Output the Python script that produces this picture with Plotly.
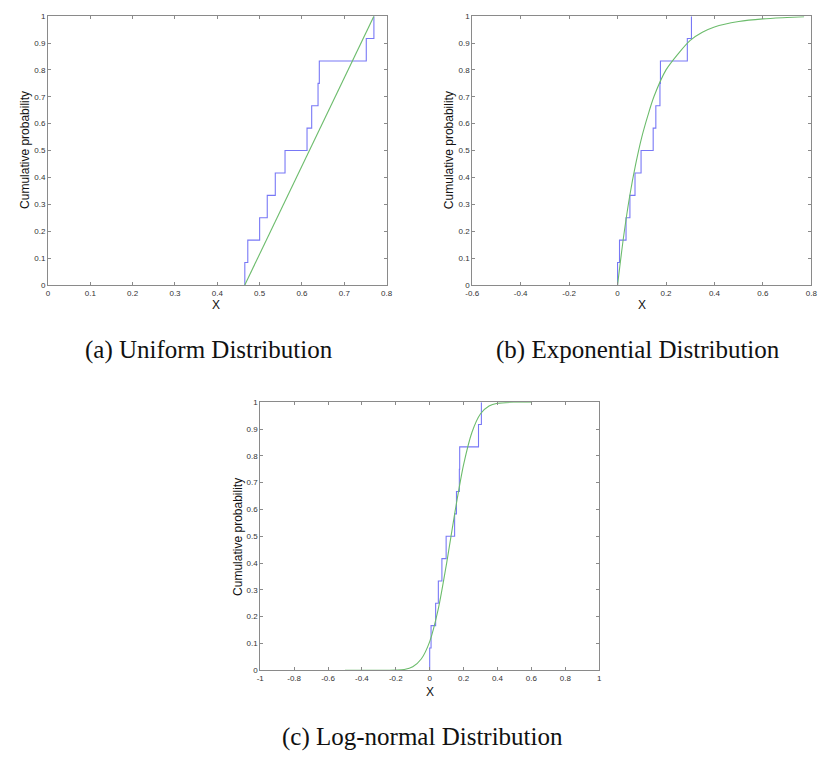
import plotly.graph_objects as go

W, H = 821, 757

# Empirical samples (sorted), read from the stairs
uniform_sample = [0.465, 0.472, 0.500, 0.518, 0.537, 0.560, 0.612, 0.623, 0.638, 0.641, 0.752, 0.770]
exp_sample = [0.000, 0.008, 0.035, 0.051, 0.072, 0.097, 0.147, 0.158, 0.175, 0.177, 0.288, 0.305]
logn_sample = [0.000, 0.008, 0.035, 0.051, 0.072, 0.097, 0.147, 0.158, 0.175, 0.177, 0.288, 0.305]

# Fitted CDF curves
uni_fit_x = [0.465, 0.770]
uni_fit_y = [0.0, 1.0]
exp_fit_x = [0.0, 0.025, 0.05, 0.075, 0.1, 0.125, 0.15, 0.2, 0.25, 0.3, 0.35, 0.4, 0.5, 0.6, 0.7, 0.77]
exp_fit_y = [0.0, 0.18, 0.33, 0.45, 0.55, 0.63, 0.70, 0.80, 0.86, 0.91, 0.94, 0.96, 0.98, 0.99, 0.995, 0.998]
logn_fit_x = [-0.5, -0.3, -0.2, -0.15, -0.1, -0.05, 0.0, 0.05, 0.1, 0.15, 0.2, 0.25, 0.3, 0.35, 0.4, 0.5, 0.6]
logn_fit_y = [0.0, 0.0, 0.001, 0.003, 0.013, 0.042, 0.107, 0.227, 0.40, 0.594, 0.767, 0.889, 0.957, 0.986, 0.996, 1.0, 1.0]

y_ticks = [0, 0.1, 0.2, 0.3, 0.4, 0.5, 0.6, 0.7, 0.8, 0.9, 1]
y_tick_text = ["0", "0.1", "0.2", "0.3", "0.4", "0.5", "0.6", "0.7", "0.8", "0.9", "1"]
xa_ticks = [0, 0.1, 0.2, 0.3, 0.4, 0.5, 0.6, 0.7, 0.8]
xa_text = ["0", "0.1", "0.2", "0.3", "0.4", "0.5", "0.6", "0.7", "0.8"]
xb_ticks = [-0.6, -0.4, -0.2, 0, 0.2, 0.4, 0.6, 0.8]
xb_text = ["-0.6", "-0.4", "-0.2", "0", "0.2", "0.4", "0.6", "0.8"]
xc_ticks = [-1, -0.8, -0.6, -0.4, -0.2, 0, 0.2, 0.4, 0.6, 0.8, 1]
xc_text = ["-1", "-0.8", "-0.6", "-0.4", "-0.2", "0", "0.2", "0.4", "0.6", "0.8", "1"]

captions = ["(a) Uniform Distribution", "(b) Exponential Distribution", "(c) Log-normal Distribution"]

BLUE = "#7878f6"
GREEN = "#6cbc6c"
AX = "#8a8a8a"


def stairs(sample):
    n = len(sample)
    xs = [sample[0]] + list(sample)
    ys = [0.0] + [(i + 1) / n for i in range(n)]
    return xs, ys


fig = go.Figure()

panels = [
    ("x", "y", uniform_sample, uni_fit_x, uni_fit_y, "linear"),
    ("x2", "y2", exp_sample, exp_fit_x, exp_fit_y, "spline"),
    ("x3", "y3", logn_sample, logn_fit_x, logn_fit_y, "spline"),
]
for xa, ya, samp, fx, fy, shape in panels:
    sx, sy = stairs(samp)
    fig.add_trace(go.Scatter(x=sx, y=sy, mode="lines", line=dict(color=BLUE, width=1.1, shape="hv"),
                             xaxis=xa, yaxis=ya, showlegend=False, hoverinfo="skip", cliponaxis=False))
    fig.add_trace(go.Scatter(x=fx, y=fy, mode="lines",
                             line=dict(color=GREEN, width=1.1, shape=shape, smoothing=0.8 if shape == "spline" else None),
                             xaxis=xa, yaxis=ya, showlegend=False, hoverinfo="skip"))


def px_x(p):
    return p / W


def px_y(p):
    return 1 - p / H


tickfont = dict(family="Liberation Sans, Arial, sans-serif", size=8, color="#333333")


def xaxis(dom, rng, ticks, text, anchor):
    return dict(domain=dom, range=rng, tickvals=ticks, ticktext=text, anchor=anchor,
                showgrid=False, zeroline=False, showline=True, linecolor=AX, linewidth=1,
                mirror="allticks", ticks="inside", ticklen=3, tickcolor=AX, tickwidth=1,
                tickfont=tickfont, fixedrange=True)


def yaxis(dom, anchor):
    return dict(domain=dom, range=[0, 1], tickvals=y_ticks, ticktext=y_tick_text, anchor=anchor,
                showgrid=False, zeroline=False, showline=True, linecolor=AX, linewidth=1,
                mirror="allticks", ticks="inside", ticklen=3, tickcolor=AX, tickwidth=1,
                tickfont=tickfont, fixedrange=True)


top_dom = [px_y(284.3), px_y(12.3)]
fig.update_layout(
    width=W, height=H,
    margin=dict(l=0, r=0, t=0, b=0),
    paper_bgcolor="white", plot_bgcolor="white",
    xaxis=xaxis([px_x(41.7), px_x(385.7)], [0, 0.8], xa_ticks, xa_text, "y"),
    yaxis=yaxis(top_dom, "x"),
    xaxis2=xaxis([px_x(472.7), px_x(817.3)], [-0.6, 0.8], xb_ticks, xb_text, "y2"),
    yaxis2=yaxis(top_dom, "x2"),
    xaxis3=xaxis([px_x(257.3), px_x(601.7)], [-1, 1], xc_ticks, xc_text, "y3"),
    yaxis3=yaxis([px_y(674.3), px_y(403)], "x3"),
)

labfont = dict(family="Liberation Sans, Arial, sans-serif", size=12, color="#111111")
capfont = dict(family="Liberation Serif, DejaVu Serif, serif", size=25, color="#111111")

ann = []
for (cx, cy) in [(212, 305), (645, 305), (430, 696)]:
    ann.append(dict(text="X", x=px_x(cx), y=px_y(cy), xref="paper", yref="paper",
                    showarrow=False, font=labfont, xanchor="center", yanchor="middle"))
for (cx, cy) in [(19, 148), (449, 148), (234, 539)]:
    ann.append(dict(text="Cumulative probability", x=px_x(cx), y=px_y(cy), xref="paper", yref="paper",
                    showarrow=False, font=labfont, xanchor="center", yanchor="middle", textangle=-90))
for text, (cx, cy) in zip(captions, [(205, 350), (641, 350), (422, 742)]):
    ann.append(dict(text=text, x=px_x(cx), y=px_y(cy), xref="paper", yref="paper",
                    showarrow=False, font=capfont, xanchor="center", yanchor="middle"))
fig.update_layout(annotations=ann)

fig.write_html("out.html", config={"displayModeBar": False},
               post_script="document.body.style.margin='0px';document.body.style.overflow='hidden';")
